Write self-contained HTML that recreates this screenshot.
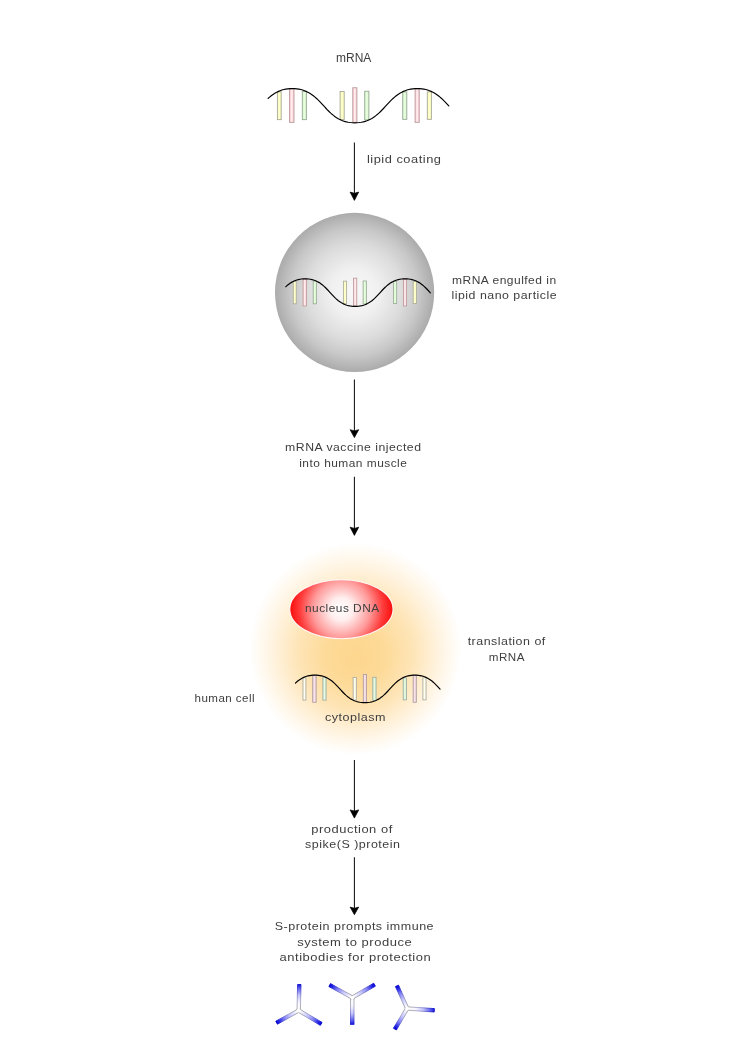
<!DOCTYPE html>
<html lang="en">
<head>
<meta charset="utf-8">
<title>mRNA vaccine mechanism</title>
<style>
html,body{margin:0;padding:0;background:#fff;}
body{width:743px;height:1052px;overflow:hidden;}
svg{display:block;will-change:transform;}
text{fill:#3e3e3e;}

.ls{font-family:"Liberation Sans",sans-serif;}
</style>
</head>
<body>
<svg width="743" height="1052" viewBox="0 0 743 1052">
<defs>
<linearGradient id="bar-y" x1="0" x2="1" y1="0" y2="0"><stop offset="0" stop-color="#fbfbb8"/><stop offset="0.5" stop-color="#ffffd0"/><stop offset="1" stop-color="#fbfbb8"/></linearGradient>
<linearGradient id="bar-p" x1="0" x2="1" y1="0" y2="0"><stop offset="0" stop-color="#fcc4c8"/><stop offset="0.5" stop-color="#fff2f4"/><stop offset="1" stop-color="#fcc4c8"/></linearGradient>
<linearGradient id="bar-g" x1="0" x2="1" y1="0" y2="0"><stop offset="0" stop-color="#ccf4c0"/><stop offset="0.5" stop-color="#ecffe4"/><stop offset="1" stop-color="#ccf4c0"/></linearGradient>
<linearGradient id="bar-yc" x1="0" x2="1" y1="0" y2="0"><stop offset="0" stop-color="#f4f4d0"/><stop offset="0.5" stop-color="#fffff4"/><stop offset="1" stop-color="#f4f4d0"/></linearGradient>
<linearGradient id="bar-pc" x1="0" x2="1" y1="0" y2="0"><stop offset="0" stop-color="#ecc8d0"/><stop offset="0.5" stop-color="#f8e6ec"/><stop offset="1" stop-color="#ecc8d0"/></linearGradient>
<linearGradient id="bar-gc" x1="0" x2="1" y1="0" y2="0"><stop offset="0" stop-color="#ceeccc"/><stop offset="0.5" stop-color="#e8fae6"/><stop offset="1" stop-color="#ceeccc"/></linearGradient>
<radialGradient id="sph" cx="0.5" cy="0.5" r="0.5"><stop offset="0" stop-color="#f8f8f8"/><stop offset="0.3" stop-color="#f0f0f0"/><stop offset="0.6" stop-color="#dcdcdc"/><stop offset="0.8" stop-color="#c8c8c8"/><stop offset="1" stop-color="#ababab"/></radialGradient>
<radialGradient id="cell" cx="0.5" cy="0.5" r="0.5" fx="0.5" fy="0.545"><stop offset="0" stop-color="#fdd68e"/><stop offset="0.28" stop-color="#fdda98"/><stop offset="0.55" stop-color="#fee5b8"/><stop offset="0.78" stop-color="#fff3df"/><stop offset="1" stop-color="#ffffff"/></radialGradient>
<radialGradient id="nuc" gradientUnits="userSpaceOnUse" cx="341.4" cy="609.2" r="52"><stop offset="0" stop-color="#ffffff"/><stop offset="0.22" stop-color="#ffeeee"/><stop offset="0.55" stop-color="#ff9a9a"/><stop offset="0.8" stop-color="#ff3c3c"/><stop offset="1" stop-color="#fb0a0a"/></radialGradient>
<linearGradient id="armg" x1="0" x2="1" y1="0" y2="0"><stop offset="0" stop-color="#ffffff"/><stop offset="0.15" stop-color="#f0f0ff"/><stop offset="0.4" stop-color="#c4c4ff"/><stop offset="0.65" stop-color="#8484f8"/><stop offset="0.85" stop-color="#3030e8"/><stop offset="1" stop-color="#0404d4"/></linearGradient>
<linearGradient id="armg2" x1="0" x2="1" y1="0" y2="0"><stop offset="0" stop-color="#ffffff"/><stop offset="0.3" stop-color="#f6f6ff"/><stop offset="0.6" stop-color="#c4c4fc"/><stop offset="0.85" stop-color="#6060ec"/><stop offset="1" stop-color="#1c1cd8"/></linearGradient>
<linearGradient id="armo" x1="0" x2="1" y1="0" y2="0"><stop offset="0" stop-color="#9c9c9c"/><stop offset="0.4" stop-color="#9e9ec0"/><stop offset="0.8" stop-color="#4444d4"/><stop offset="1" stop-color="#0000cc"/></linearGradient>
</defs>
<rect width="743" height="1052" fill="#fff"/>

<g id="mrna-top"><rect x="277.40" y="91.85" width="3.80" height="27.80" fill="url(#bar-y)" stroke="#a8a898" stroke-width="0.9"/>
<rect x="289.60" y="88.75" width="4.40" height="33.60" fill="url(#bar-p)" stroke="#b8999b" stroke-width="0.9"/>
<rect x="302.30" y="91.45" width="4.10" height="28.20" fill="url(#bar-g)" stroke="#98a896" stroke-width="0.9"/>
<rect x="340.10" y="91.45" width="4.10" height="28.20" fill="url(#bar-y)" stroke="#a8a898" stroke-width="0.9"/>
<rect x="352.80" y="87.75" width="4.10" height="34.60" fill="url(#bar-p)" stroke="#b8999b" stroke-width="0.9"/>
<rect x="364.70" y="91.25" width="4.20" height="28.70" fill="url(#bar-g)" stroke="#98a896" stroke-width="0.9"/>
<rect x="402.70" y="91.85" width="4.10" height="27.50" fill="url(#bar-g)" stroke="#98a896" stroke-width="0.9"/>
<rect x="415.10" y="88.75" width="4.10" height="33.60" fill="url(#bar-p)" stroke="#b8999b" stroke-width="0.9"/>
<rect x="427.30" y="91.85" width="4.10" height="27.50" fill="url(#bar-y)" stroke="#a8a898" stroke-width="0.9"/>
<path d="M268.10,98.42 L268.29,98.24 L269.59,97.09 L270.92,95.99 L272.31,94.94 L273.75,93.94 L275.24,93.02 L276.80,92.16 L278.43,91.38 L280.14,90.68 L281.92,90.07 L283.80,89.56 L285.77,89.15 L287.84,88.85 L290.01,88.66 L292.30,88.60 L294.59,88.66 L296.76,88.85 L298.83,89.15 L300.80,89.56 L302.68,90.07 L304.46,90.68 L306.17,91.38 L307.80,92.16 L309.36,93.02 L310.85,93.94 L312.29,94.94 L313.67,95.99 L315.01,97.09 L316.31,98.24 L317.57,99.42 L318.80,100.64 L320.01,101.88 L321.20,103.14 L322.38,104.42 L323.55,105.70 L324.72,106.98 L325.90,108.26 L327.09,109.52 L328.30,110.76 L329.53,111.98 L330.79,113.16 L332.09,114.31 L333.42,115.41 L334.81,116.46 L336.25,117.46 L337.74,118.38 L339.30,119.24 L340.93,120.02 L342.64,120.72 L344.42,121.33 L346.30,121.84 L348.27,122.25 L350.34,122.55 L352.51,122.74 L354.80,122.80 L357.09,122.74 L359.26,122.55 L361.33,122.25 L363.30,121.84 L365.18,121.33 L366.96,120.72 L368.67,120.02 L370.30,119.24 L371.86,118.38 L373.35,117.46 L374.79,116.46 L376.17,115.41 L377.51,114.31 L378.81,113.16 L380.07,111.98 L381.30,110.76 L382.51,109.52 L383.70,108.26 L384.88,106.98 L386.05,105.70 L387.22,104.42 L388.40,103.14 L389.59,101.88 L390.80,100.64 L392.03,99.42 L393.29,98.24 L394.59,97.09 L395.92,95.99 L397.31,94.94 L398.75,93.94 L400.24,93.02 L401.80,92.16 L403.43,91.38 L405.14,90.68 L406.92,90.07 L408.80,89.56 L410.77,89.15 L412.84,88.85 L415.01,88.66 L417.30,88.60 L419.59,88.66 L421.76,88.85 L423.83,89.15 L425.80,89.56 L427.68,90.07 L429.46,90.68 L431.17,91.38 L432.80,92.16 L434.36,93.02 L435.85,93.94 L437.29,94.94 L438.67,95.99 L440.01,97.09 L441.31,98.24 L442.57,99.42 L443.80,100.64 L445.01,101.88 L446.20,103.14 L447.38,104.42 L448.55,105.70 L448.80,105.97" fill="none" stroke="#000" stroke-width="1.15" stroke-linecap="round"/></g>
<line x1="354.4" y1="142.4" x2="354.4" y2="193.8" stroke="#111" stroke-width="1.05"/><path d="M350.10,192.10 L354.40,193.30 L358.70,192.10 L354.40,200.40 Z" fill="#000" stroke="#000" stroke-width="0.7" stroke-linejoin="round"/>
<circle cx="354.6" cy="292.45" r="79.6" fill="url(#sph)"/>
<g transform="translate(71.3,207.3) scale(0.8,0.807)"><rect x="277.45" y="91.90" width="3.70" height="27.70" fill="url(#bar-y)" stroke="#a8a898" stroke-width="1.0"/>
<rect x="289.65" y="88.80" width="4.30" height="33.50" fill="url(#bar-p)" stroke="#b8999b" stroke-width="1.0"/>
<rect x="302.35" y="91.50" width="4.00" height="28.10" fill="url(#bar-g)" stroke="#98a896" stroke-width="1.0"/>
<rect x="340.15" y="91.50" width="4.00" height="28.10" fill="url(#bar-y)" stroke="#a8a898" stroke-width="1.0"/>
<rect x="352.85" y="87.80" width="4.00" height="34.50" fill="url(#bar-p)" stroke="#b8999b" stroke-width="1.0"/>
<rect x="364.75" y="91.30" width="4.10" height="28.60" fill="url(#bar-g)" stroke="#98a896" stroke-width="1.0"/>
<rect x="402.75" y="91.90" width="4.00" height="27.40" fill="url(#bar-g)" stroke="#98a896" stroke-width="1.0"/>
<rect x="415.15" y="88.80" width="4.00" height="33.50" fill="url(#bar-p)" stroke="#b8999b" stroke-width="1.0"/>
<rect x="427.35" y="91.90" width="4.00" height="27.40" fill="url(#bar-y)" stroke="#a8a898" stroke-width="1.0"/>
<path d="M268.10,98.42 L268.29,98.24 L269.59,97.09 L270.92,95.99 L272.31,94.94 L273.75,93.94 L275.24,93.02 L276.80,92.16 L278.43,91.38 L280.14,90.68 L281.92,90.07 L283.80,89.56 L285.77,89.15 L287.84,88.85 L290.01,88.66 L292.30,88.60 L294.59,88.66 L296.76,88.85 L298.83,89.15 L300.80,89.56 L302.68,90.07 L304.46,90.68 L306.17,91.38 L307.80,92.16 L309.36,93.02 L310.85,93.94 L312.29,94.94 L313.67,95.99 L315.01,97.09 L316.31,98.24 L317.57,99.42 L318.80,100.64 L320.01,101.88 L321.20,103.14 L322.38,104.42 L323.55,105.70 L324.72,106.98 L325.90,108.26 L327.09,109.52 L328.30,110.76 L329.53,111.98 L330.79,113.16 L332.09,114.31 L333.42,115.41 L334.81,116.46 L336.25,117.46 L337.74,118.38 L339.30,119.24 L340.93,120.02 L342.64,120.72 L344.42,121.33 L346.30,121.84 L348.27,122.25 L350.34,122.55 L352.51,122.74 L354.80,122.80 L357.09,122.74 L359.26,122.55 L361.33,122.25 L363.30,121.84 L365.18,121.33 L366.96,120.72 L368.67,120.02 L370.30,119.24 L371.86,118.38 L373.35,117.46 L374.79,116.46 L376.17,115.41 L377.51,114.31 L378.81,113.16 L380.07,111.98 L381.30,110.76 L382.51,109.52 L383.70,108.26 L384.88,106.98 L386.05,105.70 L387.22,104.42 L388.40,103.14 L389.59,101.88 L390.80,100.64 L392.03,99.42 L393.29,98.24 L394.59,97.09 L395.92,95.99 L397.31,94.94 L398.75,93.94 L400.24,93.02 L401.80,92.16 L403.43,91.38 L405.14,90.68 L406.92,90.07 L408.80,89.56 L410.77,89.15 L412.84,88.85 L415.01,88.66 L417.30,88.60 L419.59,88.66 L421.76,88.85 L423.83,89.15 L425.80,89.56 L427.68,90.07 L429.46,90.68 L431.17,91.38 L432.80,92.16 L434.36,93.02 L435.85,93.94 L437.29,94.94 L438.67,95.99 L440.01,97.09 L441.31,98.24 L442.57,99.42 L443.80,100.64 L445.01,101.88 L446.20,103.14 L447.38,104.42 L448.55,105.70 L448.80,105.97" fill="none" stroke="#000" stroke-width="1.5" stroke-linecap="round"/></g>
<line x1="354.4" y1="379.5" x2="354.4" y2="431.4" stroke="#111" stroke-width="1.05"/><path d="M350.10,429.70 L354.40,430.90 L358.70,429.70 L354.40,437.60 Z" fill="#000" stroke="#000" stroke-width="0.7" stroke-linejoin="round"/>
<line x1="354.4" y1="476.8" x2="354.4" y2="528.9" stroke="#111" stroke-width="1.05"/><path d="M350.10,527.20 L354.40,528.40 L358.70,527.20 L354.40,535.40 Z" fill="#000" stroke="#000" stroke-width="0.7" stroke-linejoin="round"/>
<circle cx="355.5" cy="648.8" r="106" fill="url(#cell)"/>
<ellipse cx="341.4" cy="609.2" rx="51.6" ry="29.5" fill="url(#nuc)" stroke="#fff" stroke-width="1.1" stroke-opacity="0.9"/>
<g transform="translate(81,603.6) scale(0.8,0.807)"><rect x="277.45" y="91.90" width="3.70" height="27.70" fill="url(#bar-yc)" stroke="#a8a8a0" stroke-width="1.0"/>
<rect x="289.65" y="88.80" width="4.30" height="33.50" fill="url(#bar-pc)" stroke="#aa9a9e" stroke-width="1.0"/>
<rect x="302.35" y="91.50" width="4.00" height="28.10" fill="url(#bar-gc)" stroke="#9aaaa0" stroke-width="1.0"/>
<rect x="340.15" y="91.50" width="4.00" height="28.10" fill="url(#bar-yc)" stroke="#a8a8a0" stroke-width="1.0"/>
<rect x="352.85" y="87.80" width="4.00" height="34.50" fill="url(#bar-pc)" stroke="#aa9a9e" stroke-width="1.0"/>
<rect x="364.75" y="91.30" width="4.10" height="28.60" fill="url(#bar-gc)" stroke="#9aaaa0" stroke-width="1.0"/>
<rect x="402.75" y="91.90" width="4.00" height="27.40" fill="url(#bar-gc)" stroke="#9aaaa0" stroke-width="1.0"/>
<rect x="415.15" y="88.80" width="4.00" height="33.50" fill="url(#bar-pc)" stroke="#aa9a9e" stroke-width="1.0"/>
<rect x="427.35" y="91.90" width="4.00" height="27.40" fill="url(#bar-yc)" stroke="#a8a8a0" stroke-width="1.0"/>
<path d="M268.10,98.42 L268.29,98.24 L269.59,97.09 L270.92,95.99 L272.31,94.94 L273.75,93.94 L275.24,93.02 L276.80,92.16 L278.43,91.38 L280.14,90.68 L281.92,90.07 L283.80,89.56 L285.77,89.15 L287.84,88.85 L290.01,88.66 L292.30,88.60 L294.59,88.66 L296.76,88.85 L298.83,89.15 L300.80,89.56 L302.68,90.07 L304.46,90.68 L306.17,91.38 L307.80,92.16 L309.36,93.02 L310.85,93.94 L312.29,94.94 L313.67,95.99 L315.01,97.09 L316.31,98.24 L317.57,99.42 L318.80,100.64 L320.01,101.88 L321.20,103.14 L322.38,104.42 L323.55,105.70 L324.72,106.98 L325.90,108.26 L327.09,109.52 L328.30,110.76 L329.53,111.98 L330.79,113.16 L332.09,114.31 L333.42,115.41 L334.81,116.46 L336.25,117.46 L337.74,118.38 L339.30,119.24 L340.93,120.02 L342.64,120.72 L344.42,121.33 L346.30,121.84 L348.27,122.25 L350.34,122.55 L352.51,122.74 L354.80,122.80 L357.09,122.74 L359.26,122.55 L361.33,122.25 L363.30,121.84 L365.18,121.33 L366.96,120.72 L368.67,120.02 L370.30,119.24 L371.86,118.38 L373.35,117.46 L374.79,116.46 L376.17,115.41 L377.51,114.31 L378.81,113.16 L380.07,111.98 L381.30,110.76 L382.51,109.52 L383.70,108.26 L384.88,106.98 L386.05,105.70 L387.22,104.42 L388.40,103.14 L389.59,101.88 L390.80,100.64 L392.03,99.42 L393.29,98.24 L394.59,97.09 L395.92,95.99 L397.31,94.94 L398.75,93.94 L400.24,93.02 L401.80,92.16 L403.43,91.38 L405.14,90.68 L406.92,90.07 L408.80,89.56 L410.77,89.15 L412.84,88.85 L415.01,88.66 L417.30,88.60 L419.59,88.66 L421.76,88.85 L423.83,89.15 L425.80,89.56 L427.68,90.07 L429.46,90.68 L431.17,91.38 L432.80,92.16 L434.36,93.02 L435.85,93.94 L437.29,94.94 L438.67,95.99 L440.01,97.09 L441.31,98.24 L442.57,99.42 L443.80,100.64 L445.01,101.88 L446.20,103.14 L447.38,104.42 L448.55,105.70 L448.80,105.97" fill="none" stroke="#000" stroke-width="1.5" stroke-linecap="round"/></g>
<line x1="354.4" y1="759.9" x2="354.4" y2="811.6" stroke="#111" stroke-width="1.05"/><path d="M350.10,809.90 L354.40,811.10 L358.70,809.90 L354.40,818.10 Z" fill="#000" stroke="#000" stroke-width="0.7" stroke-linejoin="round"/>
<line x1="354.4" y1="857.2" x2="354.4" y2="908.8" stroke="#111" stroke-width="1.05"/><path d="M350.10,907.10 L354.40,908.30 L358.70,907.10 L354.40,914.70 Z" fill="#000" stroke="#000" stroke-width="0.7" stroke-linejoin="round"/>
<g id="ab1"><g transform="translate(298.70,1010.50) rotate(-88.68)"><rect x="0" y="-1.70" width="26.01" height="3.40" fill="url(#armg2)" stroke="url(#armo)" stroke-width="0.8"/></g>
<g transform="translate(298.70,1010.50) rotate(151.10)"><rect x="0" y="-1.70" width="25.24" height="3.40" fill="url(#armg)" stroke="url(#armo)" stroke-width="0.8"/></g>
<g transform="translate(298.70,1010.50) rotate(30.78)"><rect x="0" y="-1.70" width="26.19" height="3.40" fill="url(#armg)" stroke="url(#armo)" stroke-width="0.8"/></g>
<circle cx="298.70" cy="1010.50" r="1.9" fill="#fff"/></g>
<g id="ab2"><g transform="translate(352.30,997.60) rotate(90.00)"><rect x="0" y="-1.70" width="26.70" height="3.40" fill="url(#armg2)" stroke="url(#armo)" stroke-width="0.8"/></g>
<g transform="translate(352.30,997.60) rotate(-151.05)"><rect x="0" y="-1.70" width="25.83" height="3.40" fill="url(#armg)" stroke="url(#armo)" stroke-width="0.8"/></g>
<g transform="translate(352.30,997.60) rotate(-30.16)"><rect x="0" y="-1.70" width="25.68" height="3.40" fill="url(#armg)" stroke="url(#armo)" stroke-width="0.8"/></g>
<circle cx="352.30" cy="997.60" r="1.9" fill="#fff"/></g>
<g id="ab3"><g transform="translate(407.20,1008.50) rotate(3.80)"><rect x="0" y="-1.70" width="27.16" height="3.40" fill="url(#armg2)" stroke="url(#armo)" stroke-width="0.8"/></g>
<g transform="translate(407.20,1008.50) rotate(-114.29)"><rect x="0" y="-1.70" width="24.80" height="3.40" fill="url(#armg)" stroke="url(#armo)" stroke-width="0.8"/></g>
<g transform="translate(407.20,1008.50) rotate(120.84)"><rect x="0" y="-1.70" width="23.99" height="3.40" fill="url(#armg)" stroke="url(#armo)" stroke-width="0.8"/></g>
<circle cx="407.20" cy="1008.50" r="1.9" fill="#fff"/></g>
<g id="labels"><text x="336.0" y="62.1" text-anchor="start" class="ls" font-size="12" fill="#383838">mRNA</text>
<text x="366.9" y="163.2" text-anchor="start" class="ls" font-size="11.2" letter-spacing="0.45" textLength="74.6" lengthAdjust="spacingAndGlyphs">lipid coating</text>
<text x="504.3" y="283.9" text-anchor="middle" class="ls" font-size="11.2" letter-spacing="0.45" textLength="104.6" lengthAdjust="spacingAndGlyphs">mRNA engulfed in</text>
<text x="504.3" y="299.1" text-anchor="middle" class="ls" font-size="11.2" letter-spacing="0.45" textLength="105.6" lengthAdjust="spacingAndGlyphs">lipid nano particle</text>
<text x="353.3" y="451.2" text-anchor="middle" class="ls" font-size="11.2" letter-spacing="0.45" textLength="136.4" lengthAdjust="spacingAndGlyphs">mRNA vaccine injected</text>
<text x="353.3" y="466.9" text-anchor="middle" class="ls" font-size="11.2" letter-spacing="0.45" textLength="108.1" lengthAdjust="spacingAndGlyphs">into human muscle</text>
<text x="342.3" y="611.9" text-anchor="middle" class="ls" font-size="11.2" letter-spacing="0.45" textLength="74.6" lengthAdjust="spacingAndGlyphs">nucleus DNA</text>
<text x="355.5" y="721.1" text-anchor="middle" class="ls" font-size="11.2" letter-spacing="0.45" textLength="61.1" lengthAdjust="spacingAndGlyphs">cytoplasm</text>
<text x="194.5" y="701.8" text-anchor="start" class="ls" font-size="11.2" letter-spacing="0.45" textLength="60.6" lengthAdjust="spacingAndGlyphs">human cell</text>
<text x="506.7" y="645.4" text-anchor="middle" class="ls" font-size="11.2" letter-spacing="0.45" textLength="78.1" lengthAdjust="spacingAndGlyphs">translation of</text>
<text x="506.9" y="660.5" text-anchor="middle" class="ls" font-size="11.2" letter-spacing="0.45" textLength="36.1" lengthAdjust="spacingAndGlyphs">mRNA</text>
<text x="352.0" y="832.5" text-anchor="middle" class="ls" font-size="11.2" letter-spacing="0.45" textLength="81.6" lengthAdjust="spacingAndGlyphs">production of</text>
<text x="352.8" y="847.9" text-anchor="middle" class="ls" font-size="11.2" letter-spacing="0.45" textLength="95.4" lengthAdjust="spacingAndGlyphs">spike(S )protein</text>
<text x="354.4" y="930.1" text-anchor="middle" class="ls" font-size="11.2" letter-spacing="0.45" textLength="159.4" lengthAdjust="spacingAndGlyphs">S-protein prompts immune</text>
<text x="354.7" y="945.6" text-anchor="middle" class="ls" font-size="11.2" letter-spacing="0.45" textLength="115.1" lengthAdjust="spacingAndGlyphs">system to produce</text>
<text x="355.4" y="960.9" text-anchor="middle" class="ls" font-size="11.2" letter-spacing="0.45" textLength="151.6" lengthAdjust="spacingAndGlyphs">antibodies for protection</text></g>
</svg>
</body>
</html>
